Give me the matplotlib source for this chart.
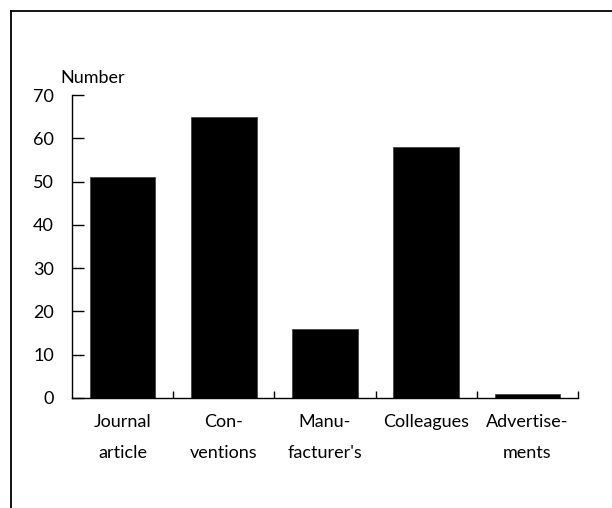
import matplotlib.pyplot as plt
from matplotlib.lines import Line2D

plt.rcParams['font.family'] = ['Lato', 'DejaVu Sans']

categories = ["Journal\narticle", "Con-\nventions", "Manu-\nfacturer's",
              "Colleagues", "Advertise-\nments"]
counts = [51, 65, 16, 58, 1]
yticks = [0, 10, 20, 30, 40, 50, 60, 70]

W, H = 612, 508
fig = plt.figure(figsize=(W / 100, H / 100), dpi=100)
ax = fig.add_axes([72 / W, 1 - 398 / H, (578 - 72) / W, (398 - 95) / H])

x = range(len(counts))
ax.bar(x, counts, width=0.65, color='black', edgecolor='#444444', linewidth=0.6)

ax.set_xlim(-0.5, len(counts) - 0.5)
ax.set_ylim(0, 70)
ax.set_yticks(yticks)
ax.tick_params(axis='y', direction='in', length=8.5, width=1, pad=13, labelsize=13)

# category labels in the middle, small ticks on the borders
ax.set_xticks(list(x))
ax.set_xticklabels(categories, linespacing=2.15)
ax.tick_params(axis='x', which='major', length=0, pad=11.5, labelsize=13)
ax.set_xticks([i + 0.5 for i in x], minor=True)
ax.tick_params(axis='x', which='minor', direction='in', length=5, width=1)

for s in ['top', 'right']:
    ax.spines[s].set_visible(False)
for s in ['left', 'bottom']:
    ax.spines[s].set_linewidth(1)

fig.text(60 / W, 1 - 83 / H, "Number", fontsize=13, ha='left', va='baseline')

# frame around the figure (top and left visible)
fig.add_artist(Line2D([11 / W, 1], [1 - 11 / H, 1 - 11 / H], color='black', lw=1.3,
                      transform=fig.transFigure))
fig.add_artist(Line2D([11 / W, 11 / W], [0, 1 - 11 / H], color='black', lw=1.3,
                      transform=fig.transFigure))

fig.savefig('out.png', dpi=100)
